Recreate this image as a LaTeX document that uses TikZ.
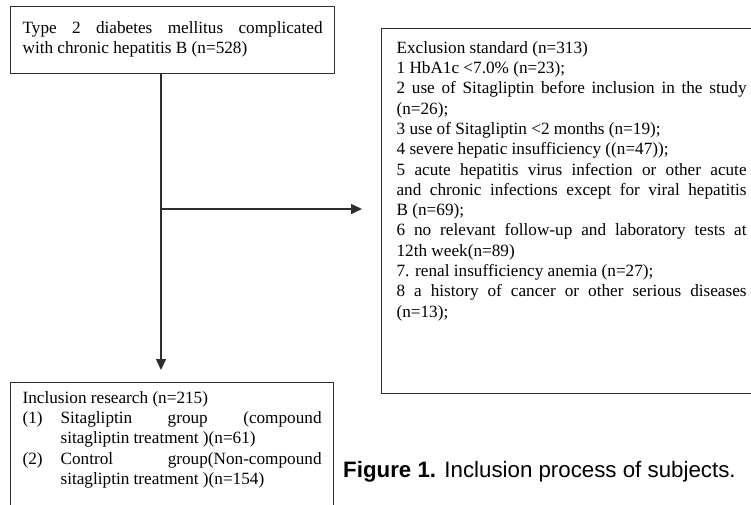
\documentclass[tikz,border=0pt]{standalone}
\usepackage{fontspec}
\setmainfont{Liberation Serif}
\newfontfamily\capfam{Liberation Sans}
\usetikzlibrary{arrows.meta}
\definecolor{linecol}{HTML}{2E2E2E}
\newcommand{\jl}[1]{\makebox[\linewidth][s]{#1}}
\begin{document}
\begin{tikzpicture}[x=1pt,y=1pt,
  box/.style={draw=linecol, line width=1.2pt, anchor=north west, inner xsep=12pt,
    font=\fontsize{17.2}{20.3}\selectfont},
  conn/.style={draw=linecol, line width=1.5pt},
  arr/.style={conn, -{Triangle[length=11pt,width=10pt]}},
  capstyle/.style={anchor=west, inner sep=0pt, font=\capfam\fontsize{22.3}{26}\selectfont}]
\useasboundingbox (0,0) rectangle (751,-505);
\clip (0,0) rectangle (751,-505);
\node[box, inner ysep=12.3pt] (top) at (10,-6)
  {\parbox[c][42.4pt][t]{300pt}{\strut\jl{Type 2 diabetes mellitus complicated}\\
   with chronic hepatitis B (n=528)}};
\node[box, inner xsep=15pt, inner ysep=10.4pt] (excl) at (381,-28)
  {\parbox[c][344.2pt][t]{350pt}{\strut Exclusion standard (n=313)\\
   1 HbA1c <7.0\% (n=23);\\
   \jl{2 use of Sitagliptin before inclusion in the study}\\
   (n=26);\\
   3 use of Sitagliptin <2 months (n=19);\\
   4 severe hepatic insufficiency ((n=47));\\
   \jl{5 acute hepatitis virus infection or other acute}\\
   \jl{and chronic infections except for viral hepatitis}\\
   B (n=69);\\
   \jl{6 no relevant follow-up and laboratory tests at}\\
   12th week(n=89)\\
   7. renal insufficiency anemia (n=27);\\
   \jl{8 a history of cancer or other serious diseases}\\
   (n=13);}};
\node[box, inner ysep=6.4pt] (incl) at (10,-382)
  {\parbox[c][140pt][t]{299pt}{\strut Inclusion research (n=215)\\
   \makebox[38pt][l]{(1)}\makebox[261pt][s]{Sitagliptin group (compound}\\
   \hspace*{38pt}sitagliptin treatment )(n=61)\\
   \makebox[38pt][l]{(2)}\makebox[261pt][s]{Control group(Non-compound}\\
   \hspace*{38pt}sitagliptin treatment )(n=154)}};
\coordinate (split) at (161,-209);
\draw[conn] (top.south -| split) -- (split);
\draw[arr] (split) -- ([yshift=12pt]split |- incl.north);
\draw[arr] (split) -- ([xshift=-19pt]excl.west |- split);
\node[capstyle] (cap) at (343,-472) {\textbf{Figure 1.} Inclusion process of subjects.};
\end{tikzpicture}
\end{document}
